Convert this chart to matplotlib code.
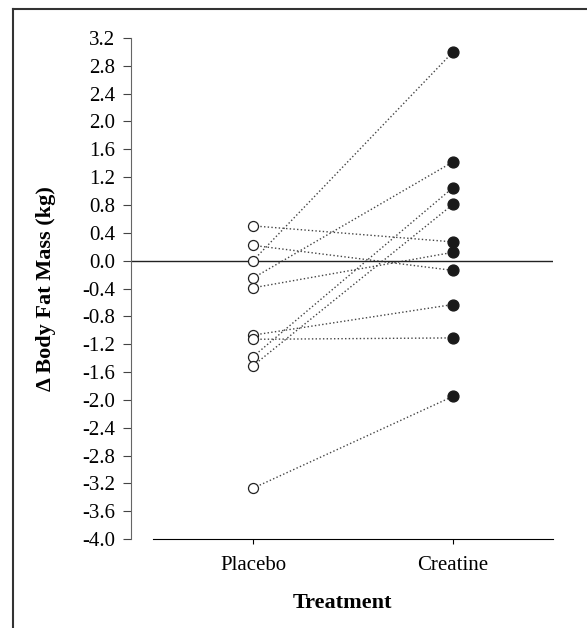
import matplotlib.pyplot as plt
from matplotlib.lines import Line2D

plt.rcParams['font.family'] = ['Liberation Serif', 'DejaVu Serif']

# change in body fat mass (kg), paired per subject
placebo = [0.5, 0.22, 0.0, -0.25, -0.39, -1.07, -1.13, -1.38, -1.51, -3.27]
creatine = [0.27, -0.14, 3.0, 1.42, 0.12, -0.63, -1.11, 1.05, 0.81, -1.95]
groups = ['Placebo', 'Creatine']
yticks = [round(-4.0 + 0.4 * i, 1) for i in range(19)]

fig = plt.figure(figsize=(5.87, 6.28), dpi=100)
ax = fig.add_axes([0.2232, 0.1417, 0.7189, 0.7978])

# paired lines
for p, c in zip(placebo, creatine):
    ax.plot([1, 2], [p, c], ls=':', color='#444444', lw=1.0, zorder=1)

ax.plot([1] * len(placebo), placebo, 'o', ms=7.2, mfc='white', mec='#222222', mew=0.9, zorder=3)
ax.plot([2] * len(creatine), creatine, 'o', ms=7.8, mfc='#1a1a1a', mec='#1a1a1a', zorder=3)

ax.axhline(0, color='#222222', lw=1.0, zorder=2)

ax.set_xlim(0.39, 2.5)
ax.set_ylim(-4.0, 3.2)
ax.set_xticks([1, 2])
ax.set_xticklabels(groups, fontsize=15)
ax.set_yticks(yticks)
ax.set_yticklabels([f'{v:.1f}' for v in yticks], fontsize=15)

for s in ['top', 'right']:
    ax.spines[s].set_visible(False)
ax.spines['bottom'].set_bounds(0.5, 2.5)
ax.spines['left'].set_color('#666666')
ax.tick_params(axis='y', length=5.8, width=0.8, color='#444444', pad=5.5)
ax.tick_params(axis='x', length=3.6, width=0.8, pad=8.5)

ax.set_ylabel('\u0394 Body Fat Mass (kg)', fontsize=16, fontweight='bold', labelpad=19)
ax.set_xlabel('Treatment', fontsize=16, fontweight='bold', labelpad=13)

# outer frame (top and left edges only)
fig.add_artist(Line2D([13 / 587, 13 / 587], [0, 1 - 9 / 628], color='#333333', lw=1.5))
fig.add_artist(Line2D([13 / 587, 1], [1 - 9 / 628, 1 - 9 / 628], color='#333333', lw=1.5))

fig.savefig('out.png', dpi=100)
